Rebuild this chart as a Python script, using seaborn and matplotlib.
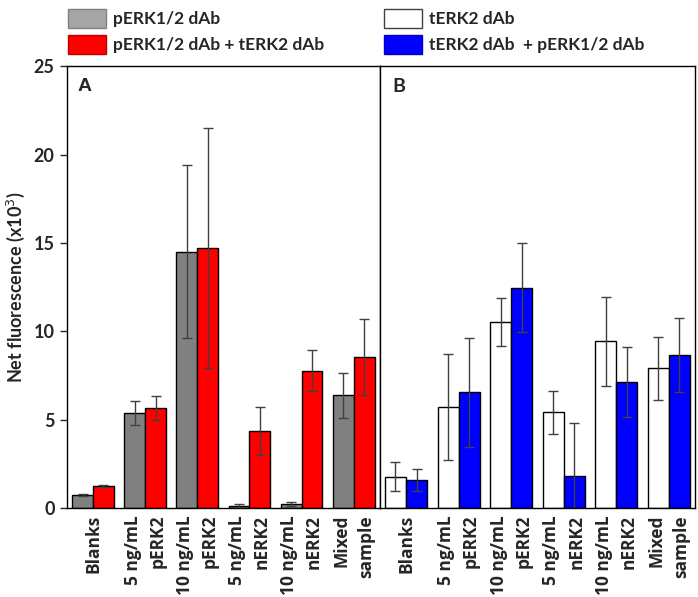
import matplotlib
matplotlib.use('Agg')
import matplotlib.pyplot as plt
import matplotlib.patches as mpatches
import pandas as pd
import seaborn as sns

# categorias do eixo x (iguais nos dois painéis)
groups = ['Blanks', '5 ng/mL\npERK2', '10 ng/mL\npERK2', '5 ng/mL\nnERK2', '10 ng/mL\nnERK2', 'Mixed\nsample']

# Painel A
series_a = ['pERK1/2 dAb', 'pERK1/2 dAb + tERK2 dAb']
a_grey = [0.75, 5.38, 14.51, 0.10, 0.23, 6.38]
a_grey_err = [0.05, 0.70, 4.90, 0.13, 0.10, 1.26]
a_red = [1.26, 5.66, 14.72, 4.34, 7.77, 8.53]
a_red_err = [0.05, 0.70, 6.80, 1.36, 1.15, 2.15]

# Painel B
series_b = ['tERK2 dAb', 'tERK2 dAb  + pERK1/2 dAb']
b_white = [1.77, 5.72, 10.53, 5.42, 9.43, 7.91]
b_white_err = [0.81, 3.00, 1.34, 1.23, 2.51, 1.79]
b_blue = [1.58, 6.55, 12.47, 1.81, 7.13, 8.66]
b_blue_err = [0.62, 3.10, 2.53, 3.00, 1.96, 2.09]

y_ticks = [0, 5, 10, 15, 20, 25]

sns.set_style('white')
plt.rcParams['font.family'] = ['Lato', 'DejaVu Sans']

fig = plt.figure(figsize=(6.98, 5.97), dpi=100)
axA = fig.add_axes([0.096, 0.149, 0.448, 0.740])
axB = fig.add_axes([0.544, 0.149, 0.452, 0.740], sharey=axA)


def painel(ax, vals1, err1, vals2, err2, names, colors, letter, lx, lfam):
    df = pd.DataFrame({
        'group': groups * 2,
        'value': vals1 + vals2,
        'series': [names[0]] * 6 + [names[1]] * 6,
    })
    sns.barplot(data=df, x='group', y='value', hue='series', hue_order=names,
                order=groups, palette=colors, edgecolor='black', linewidth=1.0,
                width=0.8, errorbar=None, legend=False, ax=ax, saturation=1)
    for p, v, e in zip(ax.patches, vals1 + vals2, err1 + err2):
        xc = p.get_x() + p.get_width() / 2
        ax.errorbar(xc, v, yerr=e, color='#404040', elinewidth=1.0,
                    capsize=3.6, capthick=1.0, fmt='none', zorder=3)
    ax.set_xlim(-0.5, 5.5)
    ax.set_xlabel('')
    ax.set_ylabel('')
    ax.set_xticks(range(6))
    ax.set_xticklabels(groups, rotation=90, fontsize=12.5, fontweight='bold',
                       family='Open Sans', linespacing=1.5,
                       multialignment='right')
    ax.tick_params(axis='x', length=0, pad=5)
    for s in ax.spines.values():
        s.set_color('black')
        s.set_linewidth(1.0)
    ax.text(lx, 0.973, letter, transform=ax.transAxes, fontsize=14,
            fontweight='bold', family=lfam, va='top')


painel(axA, a_grey, a_grey_err, a_red, a_red_err, series_a,
       ['#808080', '#ff0000'], 'A', 0.035, 'Liberation Sans')
painel(axB, b_white, b_white_err, b_blue, b_blue_err, series_b,
       ['#ffffff', '#0000ff'], 'B', 0.041, 'Lato')

axA.set_ylim(0, 25)
axA.set_yticks(y_ticks)
axA.set_yticklabels([str(t) for t in y_ticks], fontsize=13, fontweight='bold')
axA.tick_params(axis='y', direction='out', length=5, width=1, left=True, pad=4)
axA.set_ylabel('Net fluorescence (x10$^3$)', fontsize=13, fontweight='bold',
               labelpad=5)
axB.tick_params(axis='y', left=False, labelleft=False)

handles = [
    mpatches.Patch(facecolor='#a6a6a6', edgecolor='#808080', label=series_a[0]),
    mpatches.Patch(facecolor='#ff0000', edgecolor='#c00000', label=series_a[1]),
    mpatches.Patch(facecolor='#ffffff', edgecolor='#404040', label=series_b[0]),
    mpatches.Patch(facecolor='#0000ff', edgecolor='#0000c0', label=series_b[1]),
]
fig.legend(handles=handles, ncol=2, loc='upper left', bbox_to_anchor=(0.0974, 0.985),
           frameon=False, prop={'weight': 'bold', 'size': 12.5},
           handlelength=2.2, handleheight=1.3, handletextpad=0.42,
           labelspacing=0.42, columnspacing=3.4, borderpad=0, borderaxespad=0)

fig.savefig('out.png', dpi=100)
